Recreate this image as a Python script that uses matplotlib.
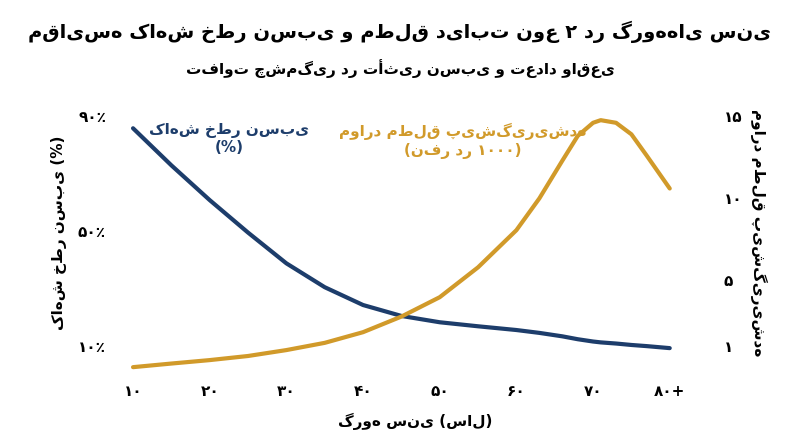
import matplotlib
matplotlib.use("Agg")
import matplotlib.pyplot as plt

plt.rcParams['font.family'] = ['DejaVu Sans']

ages = [10, 15, 20, 25, 30, 35, 40, 45, 50, 55, 60, 63, 66, 68, 70, 71, 73, 75, 77, 80]
rel = [85.8, 72.9, 60.8, 49.5, 38.8, 30.5, 24.3, 20.5, 18.3, 16.9, 15.6, 14.6, 13.4, 12.4, 11.6, 11.3, 10.9, 10.4, 10.0, 9.3]
absv = [-0.28, -0.06, 0.15, 0.40, 0.76, 1.20, 1.85, 2.80, 3.98, 5.8, 8.06, 10.0, 12.3, 13.8, 14.6, 14.76, 14.6, 13.9, 12.6, 10.6]
xlabels = ['۱۰', '۲۰', '۳۰', '۴۰', '۵۰', '۶۰', '۷۰', '۸۰+']
xticks = [10, 20, 30, 40, 50, 60, 70, 80]

blue = '#1d3d6b'
gold = '#d19a2a'

fig = plt.figure(figsize=(8, 4.47), dpi=100)
ax = fig.add_axes([0.15, 0.172, 0.737, 0.615])
ax2 = ax.twinx()
ax.plot(ages, rel, color=blue, lw=3, solid_capstyle='round')
ax2.plot(ages, absv, color=gold, lw=3, solid_capstyle='round')
ax.set_xlim(8.3, 85.2)
ax.set_ylim(1.65, 97.3)
ax2.set_ylim(-0.46, 16.28)
ax.set_xticks(xticks)
ax.set_xticklabels(xlabels, fontsize=11, fontweight='bold')
ax.set_yticks([10, 50, 90])
ax.set_yticklabels(['۱۰٪', '۵۰٪', '۹۰٪'], fontsize=11, fontweight='bold')
ax2.set_yticks([1, 5, 10, 15])
ax2.set_yticklabels(['۱', '۵', '۱۰', '۱۵'], fontsize=11, fontweight='bold')
for a in (ax, ax2):
    for s in ('top', 'left', 'right', 'bottom'):
        a.spines[s].set_visible(False)
    a.tick_params(length=0, pad=10)
ax.set_xlabel('گروه سنی (سال)', fontsize=11, fontweight='bold', labelpad=10)
ax.set_ylabel('کاهش خطر نسبی (%)', fontsize=11, fontweight='bold', labelpad=8)
ax2.set_ylabel('موارد مطلق پیشگیری‌شده', fontsize=11, fontweight='bold', labelpad=6, rotation=270, va='bottom')
ax.text(22.5, 82, 'کاهش خطر نسبی\n(%)', color=blue, fontsize=11, fontweight='bold', ha='center', va='center')
ax2.text(53, 13.5, 'موارد مطلق پیشگیری‌شده\n(نفر در ۱۰۰۰)', color=gold, fontsize=11, fontweight='bold', ha='center', va='center')
fig.text(0.5, 0.915, 'مقایسه کاهش خطر نسبی و مطلق دیابت نوع ۲ در گروه‌های سنی', ha='center', fontsize=14, fontweight='bold')
fig.text(0.5, 0.835, 'تفاوت چشمگیر در تأثیر نسبی و تعداد واقعی', ha='center', fontsize=11, fontweight='bold')
fig.savefig('out.png', dpi=100, facecolor='white')
